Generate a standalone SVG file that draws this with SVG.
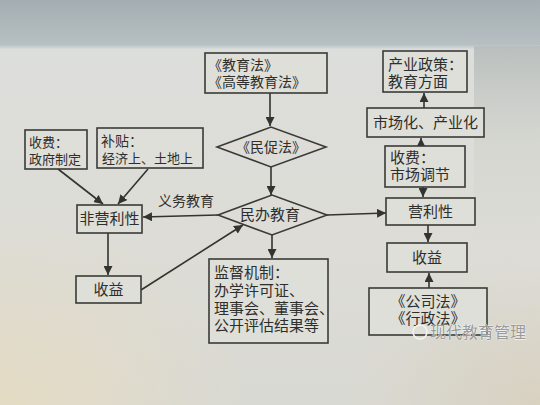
<svg xmlns="http://www.w3.org/2000/svg" width="540" height="405" viewBox="0 0 540 405">
  <defs>
    <linearGradient id="bg" x1="0" y1="0" x2="0" y2="1">
      <stop offset="0" stop-color="#a4aeb2"/>
      <stop offset="0.11" stop-color="#b6c0c2"/>
      <stop offset="0.122" stop-color="#dcdedb"/>
      <stop offset="0.6" stop-color="#dddcd6"/>
      <stop offset="1" stop-color="#d9d9d3"/>
    </linearGradient>
    <radialGradient id="warm" cx="0" cy="1" r="0.45">
      <stop offset="0" stop-color="#e8dcc0" stop-opacity="0.8"/>
      <stop offset="1" stop-color="#e8dcc0" stop-opacity="0"/>
    </radialGradient>
    <radialGradient id="warm2" cx="1" cy="1" r="0.35">
      <stop offset="0" stop-color="#d8ccb4" stop-opacity="0.6"/>
      <stop offset="1" stop-color="#d8ccb4" stop-opacity="0"/>
    </radialGradient>
    <linearGradient id="rightEdge" x1="0" y1="0" x2="0" y2="1">
      <stop offset="0" stop-color="#b9bfbd"/>
      <stop offset="0.5" stop-color="#cfd0c9" stop-opacity="0.5"/>
      <stop offset="1" stop-color="#cfd0c9" stop-opacity="0"/>
    </linearGradient>
    <marker id="ah" viewBox="0 0 10 10" refX="10" refY="5" markerWidth="9" markerHeight="9" markerUnits="userSpaceOnUse" orient="auto">
      <path d="M0,0 L10,5 L0,10 z" fill="#333330"/>
    </marker>
    <style>
      .box { fill: #dfdfd9; stroke: #3a3a36; stroke-width: 1.6; }
      .dia { fill: #dddcd6; stroke: #3a3a36; stroke-width: 1.6; }
      .t { font-family: "Noto Sans CJK SC", "Noto Sans", sans-serif; font-size: 15px; fill: #2e2e2c; }
      .s14 { font-size: 14px; }
      .s13 { font-size: 13px; }
      .c { text-anchor: middle; }
      .ln { stroke: #333330; stroke-width: 1.6; fill: none; marker-end: url(#ah); }
      .wm { font-family: "Noto Sans CJK SC", sans-serif; font-size: 16px; fill: #9a9a98; stroke: #ffffff; stroke-width: 0.6; paint-order: stroke; }
    </style>
  </defs>

  <rect x="0" y="0" width="540" height="405" fill="url(#bg)"/>
  <rect x="0" y="0" width="540" height="405" fill="url(#warm)"/>
  <rect x="0" y="0" width="540" height="405" fill="url(#warm2)"/>
  <rect x="474" y="46" width="66" height="200" fill="url(#rightEdge)"/>

  <g id="connectors">
    <line class="ln" x1="270" y1="93" x2="270" y2="126"/>
    <line class="ln" x1="271" y1="167" x2="271" y2="195"/>
    <line class="ln" x1="327" y1="215" x2="386" y2="213"/>
    <line class="ln" x1="218" y1="215" x2="143" y2="217"/>
    <line class="ln" x1="58" y1="169" x2="103" y2="204"/>
    <line class="ln" x1="148" y1="169" x2="118" y2="204"/>
    <line class="ln" x1="108" y1="233" x2="108" y2="275"/>
    <line class="ln" x1="141" y1="290" x2="243" y2="225"/>
    <line class="ln" x1="272" y1="235" x2="272" y2="258"/>
    <line class="ln" x1="424" y1="108" x2="424" y2="93"/>
    <line class="ln" x1="421" y1="146" x2="421" y2="138"/>
    <line class="ln" x1="423" y1="187" x2="423" y2="197"/>
    <line class="ln" x1="428" y1="225" x2="428" y2="242"/>
    <line class="ln" x1="429" y1="288" x2="429" y2="273"/>
    <text class="t s14" x="158" y="206">义务教育</text>
  </g>

  <g id="n_laws">
    <rect class="box" x="205" y="53" width="122" height="40"/>
    <text class="t s14" x="208" y="70">《教育法》</text>
    <text class="t s14" x="208" y="87">《高等教育法》</text>
  </g>

  <g id="n_minculaw">
    <polygon class="dia" points="217,147 271,127 326,147 271,167"/>
    <text class="t c s14" x="271" y="152">《民促法》</text>
  </g>

  <g id="n_minban">
    <polygon class="dia" points="218,215 272,195 327,215 272,235"/>
    <text class="t c" x="270" y="220">民办教育</text>
  </g>

  <g id="n_fee_gov">
    <rect class="box" x="25" y="130" width="62" height="39"/>
    <text class="t s13" x="29" y="147">收费：</text>
    <text class="t s13" x="29" y="164">政府制定</text>
  </g>

  <g id="n_subsidy">
    <rect class="box" x="97" y="128" width="106" height="40"/>
    <text class="t s14" x="101" y="146">补贴：</text>
    <text class="t s13" x="102" y="163">经济上、土地上</text>
  </g>

  <g id="n_nonprofit">
    <rect class="box" x="77" y="205" width="65" height="28"/>
    <text class="t c" x="109.5" y="224">非营利性</text>
  </g>

  <g id="n_income_left">
    <rect class="box" x="76" y="276" width="65" height="27"/>
    <text class="t c" x="108.5" y="295">收益</text>
  </g>

  <g id="n_supervise">
    <rect class="box" x="209" y="259" width="119" height="84"/>
    <text class="t" x="214" y="278">监督机制：</text>
    <text class="t" x="214" y="296">办学许可证、</text>
    <text class="t" x="214" y="314">理事会、董事会、</text>
    <text class="t" x="214" y="331">公开评估结果等</text>
  </g>

  <g id="n_industry_policy">
    <rect class="box" x="383" y="51" width="84" height="41"/>
    <text class="t" x="388" y="70">产业政策：</text>
    <text class="t" x="388" y="87">教育方面</text>
  </g>

  <g id="n_market">
    <rect class="box" x="367" y="108" width="117" height="29"/>
    <text class="t c" x="425.5" y="128">市场化、产业化</text>
  </g>

  <g id="n_fee_market">
    <rect class="box" x="385" y="146" width="80" height="41"/>
    <text class="t" x="390" y="163">收费：</text>
    <text class="t" x="390" y="180">市场调节</text>
  </g>

  <g id="n_profit">
    <rect class="box" x="386" y="198" width="89" height="27"/>
    <text class="t c" x="430.5" y="217">营利性</text>
  </g>

  <g id="n_income_right">
    <rect class="box" x="387" y="243" width="80" height="29"/>
    <text class="t c" x="427" y="263">收益</text>
  </g>

  <g id="n_company_law">
    <rect class="box" x="369" y="288" width="118" height="47"/>
    <text class="t c" x="428" y="307">《公司法》</text>
    <text class="t c" x="428" y="324">《行政法》</text>
  </g>

  <g id="watermark">
    <circle cx="420" cy="332" r="7" fill="none" stroke="#f4f4f2" stroke-width="1.5"/>
    <text class="wm" x="430" y="338">现代教育管理</text>
  </g>
</svg>
